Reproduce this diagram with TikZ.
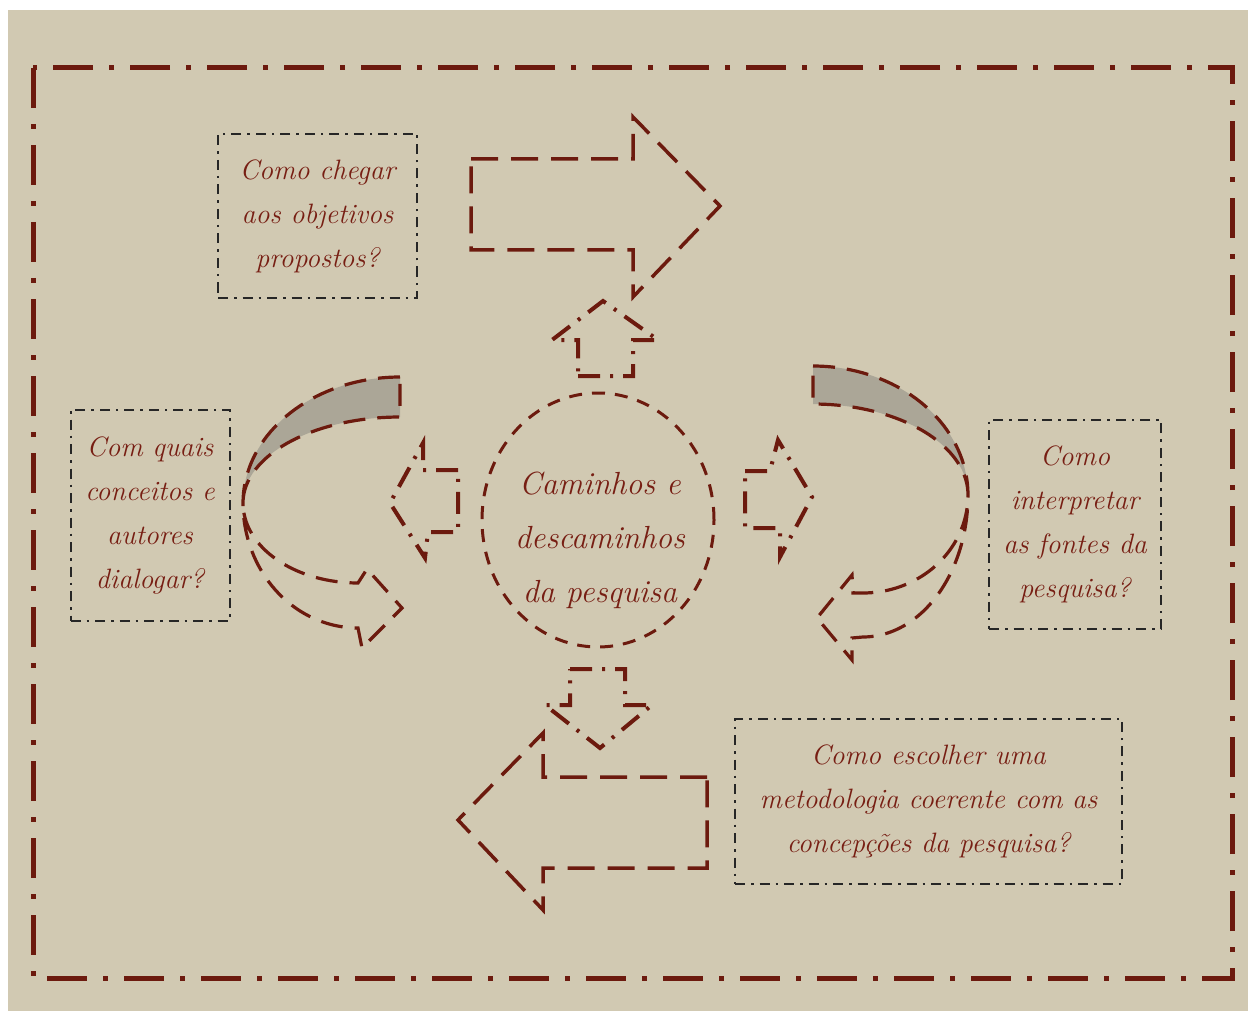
\documentclass[tikz,border=0pt]{standalone}
\usepackage{fontspec}
\usepackage{tikz}
\usetikzlibrary{shapes.geometric}
\definecolor{linen}{HTML}{D1C9B2}
\definecolor{wine}{HTML}{6C1A0E}
\definecolor{winetext}{HTML}{771E13}
\definecolor{ink}{HTML}{262626}
\definecolor{bandgrey}{HTML}{ABA697}
\newcommand\qfont{\fontsize{28}{44}\selectfont\itshape}
\newcommand\hubfont{\fontsize{32}{54}\selectfont\itshape}

\begin{document}
\begin{tikzpicture}[x=1pt,y=-1pt,
  frame/.style={draw=wine,line width=5pt,dash pattern=on 40pt off 16pt on 5pt off 16pt},
  qbox/.style={draw=ink,line width=2pt,dash pattern=on 10pt off 6pt on 2.5pt off 6pt,inner sep=0pt,align=center,text=winetext,font=\qfont},
  hub/.style={ellipse,draw=wine,line width=3pt,dash pattern=on 13pt off 10pt,minimum width=232pt,minimum height=254pt,inner sep=0pt},
  hubtext/.style={align=center,text=winetext,font=\hubfont,inner sep=0pt},
  bigarrow/.style={draw=wine,line width=3.5pt,dash pattern=on 27pt off 13pt},
  smallarrow/.style={draw=wine,line width=4pt,dash pattern=on 22pt off 10pt on 3pt off 10pt},
  curved/.style={draw=wine,line width=3.2pt,dash pattern=on 22pt off 12pt}]
\useasboundingbox (0,0) rectangle (1248,1011);
\fill[white] (0,0) rectangle (1248,1011);
\fill[linen] (8,10) rectangle (1248,1011);
% outer frame
\draw[frame] (33,68) rectangle (1232,978);
% question boxes
\foreach \n/\pos/\w/\h/\txt in {
  q1/{317.5,216}/199/164/{Como chegar\\aos objetivos\\propostos?},
  q2/{150,515}/159/211/{Com quais\\conceitos e\\autores\\dialogar?},
  q3/{1075,524}/172/209/{Como\\interpretar\\as fontes da\\pesquisa?},
  q4/{928.5,801}/387/165/{Como escolher uma\\metodologia coerente com as\\concepções da pesquisa?}}{
  \node[qbox,minimum width=\w pt,minimum height=\h pt] (\n) at (\pos) {\txt};
}
% centre
\node[hub] (hub) at (598,520) {};
\node[hubtext] (hubtxt) at (600,540) {Caminhos e\\descaminhos\\da pesquisa};
% big arrows
\draw[bigarrow] (471,159) -- (633,159) -- (633,117) -- (720,206) -- (633,297) -- (633,250) -- (471,250) -- cycle;
\draw[bigarrow] (707,777) -- (543,777) -- (543,733) -- (458,820) -- (543,910) -- (543,868) -- (707,868) -- cycle;
% small arrows round the hub
\draw[smallarrow] (578,376) -- (633,376) -- (633,340) -- (658,340) -- (603,301) -- (552,340) -- (578,340) -- cycle;
\draw[smallarrow] (570,669) -- (625,669) -- (625,705) -- (652,705) -- (600,748) -- (545,705) -- (570,705) -- cycle;
\draw[smallarrow] (458,470) -- (423,470) -- (423,443) -- (390,503) -- (425,558) -- (428,532) -- (458,532) -- cycle;
\draw[smallarrow] (745,471) -- (770,471) -- (778,440) -- (812,497) -- (780,557) -- (780,528) -- (745,528) -- cycle;
% curved arrows, shaded back band
\fill[bandgrey] (400,377) -- plot[domain=270:180,samples=40] ({400+157*cos(\x)},{503+126*sin(\x)})
  -- plot[domain=180:270,samples=40] ({400+157*cos(\x)},{503+86*sin(\x)}) -- cycle;
\fill[bandgrey] (813,366) -- plot[domain=270:360,samples=40] ({813+155*cos(\x)},{495+129*sin(\x)})
  -- plot[domain=360:270,samples=40] ({813+155*cos(\x)},{495+91*sin(\x)}) -- cycle;
\draw[curved] (400,377) -- plot[domain=270:180,samples=40] ({400+157*cos(\x)},{503+126*sin(\x)})
  -- plot[domain=180:90,samples=40] ({358+115*cos(\x)},{503+125*sin(\x)})
  -- (362,648) -- (402,608) -- (367,569) -- (358,583)
  -- plot[domain=90:180,samples=40] ({358+115*cos(\x)},{503+80*sin(\x)})
  -- plot[domain=180:270,samples=40] ({400+157*cos(\x)},{503+86*sin(\x)}) -- cycle;
\draw[curved] (813,366) -- plot[domain=270:360,samples=40] ({813+155*cos(\x)},{495+129*sin(\x)})
  -- plot[domain=0:90,samples=40] ({863+105*cos(\x)},{495+142*sin(\x)})
  -- (852,638) -- (852,660) -- (817,618) -- (852,575) -- (853,593) -- (863,593)
  -- plot[domain=90:0,samples=40] ({863+105*cos(\x)},{495+98*sin(\x)})
  -- plot[domain=360:270,samples=40] ({813+155*cos(\x)},{495+91*sin(\x)}) -- cycle;
\end{tikzpicture}
\end{document}
